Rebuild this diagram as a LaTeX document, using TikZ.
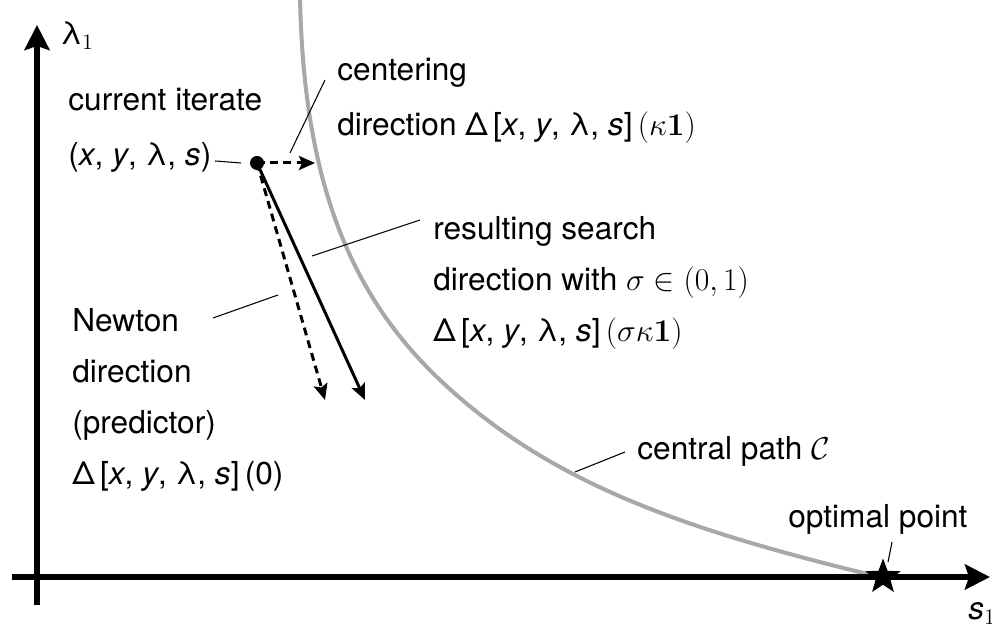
\RequirePackage{fix-cm}
\documentclass[tikz,border=0pt]{standalone}
\usepackage[no-math]{fontspec}
\setmainfont{TeX Gyre Heros}
\usetikzlibrary{arrows.meta,shapes.geometric}
\definecolor{pathgray}{RGB}{168,168,172}
\newcommand{\xyls}{\textit{x}, \textit{y}, λ, \textit{s}}
\begin{document}
\begin{tikzpicture}[every node/.style={font=\fontsize{18}{29}\selectfont, inner sep=0pt},
  axisline/.style={line width=3.6pt, -{Stealth[length=0.5cm, width=0.5cm, inset=0.08cm]}},
  steparrow/.style={line width=1.7pt, -{Stealth[length=0.32cm, width=0.28cm, inset=0.06cm]}},
  dashedstep/.style={steparrow, dash pattern=on 4.5pt off 3pt},
  leader/.style={line width=0.6pt}]
  \useasboundingbox (0,0) rectangle (19.84,12.48);
  % central path
  \draw[pathgray, line width=2.3pt] (6.00,12.58) .. controls (6.06,8.88) and (7.00,6.58) .. (8.80,4.88)
    .. controls (10.96,2.84) and (13.60,1.90) .. (17.60,0.94);
  % axes
  \coordinate (ybot) at (0.74,0.38);
  \coordinate (ytop) at (0.74,11.98);
  \coordinate (xleft) at (0.24,0.94);
  \coordinate (xright) at (19.80,0.94);
  \draw[axisline] (ybot) -- (ytop);
  \draw[axisline] (xleft) -- (xright);
  \node[anchor=base west] (lam) at (1.20,11.58) {λ$_1$};
  \node[anchor=base west] (sone) at (19.36,0.08) {\textit{s}$_1$};
  % iterate and directions
  \node[circle, fill=black, minimum size=0.28cm] (dot) at (5.14,9.22) {};
  \coordinate (ctip) at (6.30,9.22);
  \coordinate (stip) at (7.30,4.48);
  \coordinate (ntip) at (6.50,4.48);
  \draw[dashedstep] (dot.center) -- (ctip);
  \draw[dashedstep] (dot.center) -- (ntip);
  \draw[steparrow] (dot.center) -- (stip);
  \node[star, star points=5, star point ratio=2.4, fill=black, minimum size=0.74cm] (opt) at (17.66,0.94) {};
  % labels
  \node[anchor=north west, align=left] (curit) at (1.36,10.72) {current iterate\\[2pt](\xyls)};
  \node[anchor=north west, align=left] (cent) at (6.74,11.32) {centering\\[2pt]direction Δ\,[\xyls]\,$(\kappa\mathbf{1})$};
  \node[anchor=north west, align=left] (result) at (8.66,8.16) {resulting search\\direction with $\sigma\in(0,1)$\\Δ\,[\xyls]\,$(\sigma\kappa\mathbf{1})$};
  \node[anchor=north west, align=left] (newton) at (1.44,6.32) {Newton\\direction\\(predictor)\\Δ\,[\xyls]\,(0)};
  \node[anchor=base west] (cpath) at (12.74,3.28) {central path $\mathcal{C}$};
  \node[anchor=base west] (optl) at (15.76,1.92) {optimal point};
  % leaders
  \coordinate (curA) at (4.30,9.26);
  \coordinate (curB) at (4.82,9.22);
  \coordinate (centA) at (5.80,9.42);
  \coordinate (centB) at (6.50,10.88);
  \coordinate (resA) at (6.24,7.36);
  \coordinate (resB) at (8.40,8.08);
  \coordinate (newA) at (4.26,6.12);
  \coordinate (newB) at (5.56,6.58);
  \coordinate (cpA) at (11.50,3.04);
  \coordinate (cpB) at (12.50,3.44);
  \coordinate (optA) at (17.76,1.24);
  \coordinate (optB) at (17.84,1.64);
  \draw[leader] (curA) -- (curB);
  \draw[leader] (centA) -- (centB);
  \draw[leader] (resA) -- (resB);
  \draw[leader] (newA) -- (newB);
  \draw[leader] (cpA) -- (cpB);
  \draw[leader] (optA) -- (optB);
\end{tikzpicture}
\end{document}
